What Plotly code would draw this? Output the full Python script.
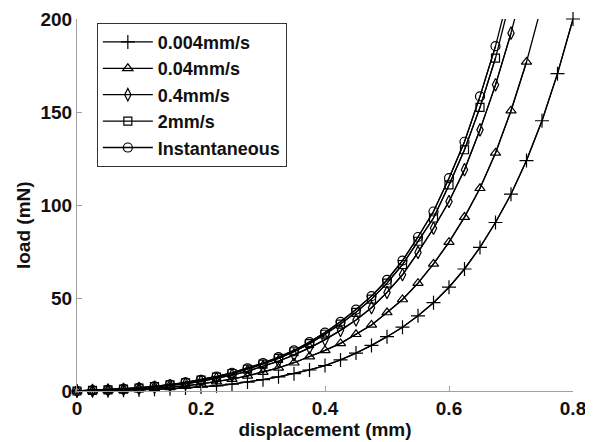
import plotly.graph_objects as go

displacement = [0.0, 0.025, 0.05, 0.075, 0.1, 0.125, 0.15, 0.175, 0.2, 0.225, 0.25, 0.275,
                0.3, 0.325, 0.35, 0.375, 0.4, 0.425, 0.45, 0.475, 0.5, 0.525, 0.55, 0.575,
                0.6, 0.625, 0.65, 0.675, 0.7, 0.725, 0.75, 0.775, 0.8]

load_0004 = [0, 0.1, 0.2, 0.4, 0.6, 0.9, 1.2, 1.6, 2.1, 2.8, 3.7, 4.8, 6.1, 7.6, 9.3, 11.3,
             13.7, 16.7, 20.4, 24.5, 29.2, 34.3, 40.4, 47.5, 55.8, 65.6, 77.2, 90.6, 105.8,
             123.9, 145.3, 170.6, 200]
load_004 = [0, 0.1, 0.3, 0.6, 0.9, 1.4, 2.0, 2.8, 3.8, 5.0, 6.4, 8.1, 10.1, 12.4, 15.2, 18.5,
            21.8, 25.6, 30.5, 35.5, 42.2, 49.2, 58.0, 68.3, 80.0, 93.5, 109.0, 128.0, 150.7,
            176.9, 208]
load_04 = [0, 0.2, 0.5, 0.9, 1.4, 2.1, 2.9, 3.9, 5.2, 6.7, 8.5, 10.6, 13.1, 16.0, 19.4, 23.2,
           27.6, 32.6, 38.2, 44.8, 53.0, 62.5, 74.5, 87.5, 101.9, 119.0, 140.4, 164.6, 192.4,
           225]
load_2 = [0, 0.3, 0.6, 1.0, 1.6, 2.4, 3.3, 4.4, 5.8, 7.5, 9.4, 11.7, 14.4, 17.5, 21.1, 25.5,
          30.5, 36.0, 42.3, 49.4, 58.0, 68.0, 80.5, 93.0, 110.8, 129.7, 152.5, 179.0, 212]
load_inst = [0, 0.3, 0.6, 1.1, 1.7, 2.5, 3.4, 4.6, 6.0, 7.8, 9.8, 12.2, 15.0, 18.2, 21.8, 26.3,
             31.4, 37.2, 43.8, 51.0, 59.7, 70.1, 82.8, 96.5, 114.4, 134.0, 158.4, 185.4, 218]

series_names = ["0.004mm/s", "0.04mm/s", "0.4mm/s", "2mm/s", "Instantaneous"]
series_loads = [load_0004, load_004, load_04, load_2, load_inst]
series_symbols = ["cross-thin-open", "triangle-up-open", "diamond-tall-open", "square-open", "circle-open"]
series_sizes = [10, 9, 9, 8, 9]

x_ticks = [0, 0.2, 0.4, 0.6, 0.8]
x_tick_labels = ["0", "0.2", "0.4", "0.6", "0.8"]
y_ticks = [0, 50, 100, 150, 200]
y_tick_labels = ["0", "50", "100", "150", "200"]
Y_MAX = 200

fig = go.Figure()
for name, ys, sym, sz in zip(series_names, series_loads, series_symbols, series_sizes):
    xs = displacement[:len(ys)]
    # full line (clipped by the axes)
    fig.add_trace(go.Scatter(x=xs, y=ys, mode="lines", line=dict(color="black", width=1.3),
                             showlegend=False, hoverinfo="skip"))
    # markers inside the visible range
    mx = [x for x, y in zip(xs, ys) if y <= Y_MAX]
    my = [y for y in ys if y <= Y_MAX]
    fig.add_trace(go.Scatter(x=mx, y=my, mode="lines+markers", name=name,
                             line=dict(color="black", width=1.3),
                             marker=dict(symbol=sym, size=sz, color="black",
                                         line=dict(color="black", width=1.2)),
                             cliponaxis=False))

FONT = "Liberation Sans, Arial, sans-serif"
font_main = dict(family=FONT, size=19, color="#111111")

fig.update_layout(
    width=593, height=442,
    margin=dict(l=69, r=28, t=11, b=59, autoexpand=False),
    paper_bgcolor="white", plot_bgcolor="white",
    font=font_main,
    showlegend=True,
    legend=dict(x=0.04, y=0.99, xanchor="left", yanchor="top",
                bgcolor="white", bordercolor="#333333", borderwidth=1,
                font=dict(family=FONT, size=18, color="#111111", weight="bold"),
                itemwidth=50, tracegroupgap=0),
    annotations=[dict(text="<b>load (mN)</b>", textangle=-90, xref="paper", yref="paper",
                      x=-0.109, y=0.446, xanchor="center", yanchor="middle", showarrow=False,
                      font=font_main)],
)

fig.update_xaxes(range=[0, 0.8], tickvals=x_ticks, ticktext=["<b>%s</b>" % t for t in x_tick_labels],
                 showline=True, linecolor="#a0a0a0", linewidth=1, mirror=False, automargin=False,
                 ticks="inside", ticklen=5, tickcolor="#a0a0a0", showgrid=False, zeroline=False,
                 title=dict(text="<b>displacement (mm)</b>", standoff=0, font=font_main),
                 tickfont=font_main)
fig.update_yaxes(range=[0, Y_MAX], tickvals=y_ticks, ticktext=["<b>%s</b>" % t for t in y_tick_labels],
                 showline=True, linecolor="#a0a0a0", linewidth=1, mirror=False, automargin=False,
                 ticks="inside", ticklen=5, tickcolor="#a0a0a0", showgrid=False, zeroline=False,
                 tickfont=font_main)

fig.write_html("out.html")
